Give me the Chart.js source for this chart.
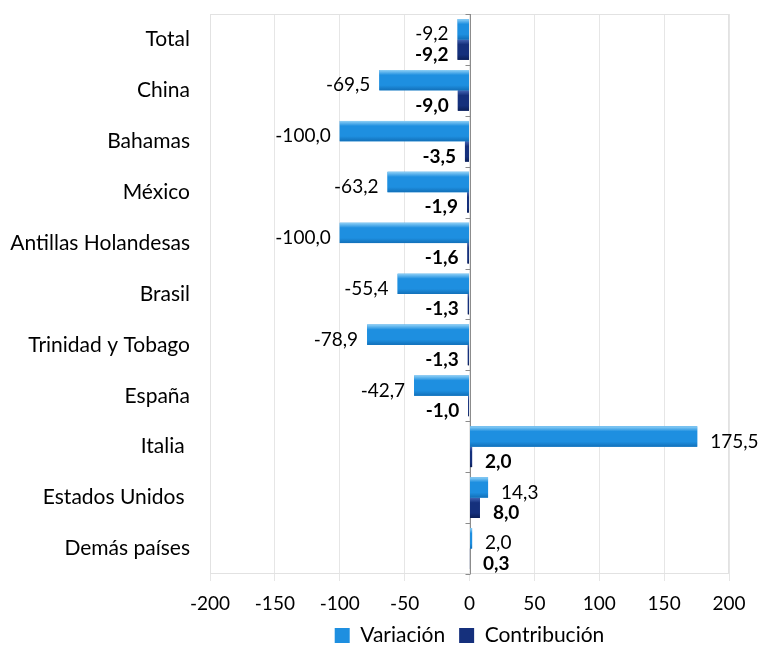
<!DOCTYPE html>
<html>
<head>
<meta charset="utf-8">
<script src="https://cdn.jsdelivr.net/npm/chart.js@4.4.1/dist/chart.umd.min.js"></script>
<style>
  html, body { margin: 0; padding: 0; background: #fff; }
  #wrap { width: 760px; height: 646px; position: relative; }
</style>
</head>
<body>
<div id="wrap"><canvas id="chart" width="760" height="646"></canvas></div>
<script>
const categories = ['Total', 'China', 'Bahamas', 'México', 'Antillas Holandesas', 'Brasil',
    'Trinidad y Tobago', 'España', 'Italia ', 'Estados Unidos ', 'Demás países'];
const variacion = [-9.2, -69.5, -100.0, -63.2, -100.0, -55.4, -78.9, -42.7, 175.5, 14.3, 2.0];
const contribucion = [-9.2, -9.0, -3.5, -1.9, -1.6, -1.3, -1.3, -1.0, 2.0, 8.0, 0.3];
const xTicks = [-200, -150, -100, -50, 0, 50, 100, 150, 200];

const FONT = 'Lato, "DejaVu Sans", sans-serif';
// light / mid / dark shade per series, for the bevelled look
const shades = [
    ['#8fd0f6', '#1e8fe0', '#1270b9'],
    ['#4565b4', '#15307c', '#0b1f57'],
];

const fmt = v => v.toFixed(1).replace('.', ',');

// repaint the bars with a vertical gradient
const bevel = {
    id: 'bevel',
    afterDatasetDraw(chart, args) {
        const ctx = chart.ctx;
        const s = shades[args.index];
        ctx.save();
        args.meta.data.forEach(bar => {
            const l = Math.min(bar.x, bar.base), r = Math.max(bar.x, bar.base);
            const t = bar.y - bar.height / 2, b = bar.y + bar.height / 2;
            if (r - l < 0.5) return;
            const g = ctx.createLinearGradient(0, t, 0, b);
            g.addColorStop(0, s[0]);
            g.addColorStop(0.25, s[1]);
            g.addColorStop(0.75, s[1]);
            g.addColorStop(1, s[2]);
            ctx.fillStyle = g;
            ctx.fillRect(l, t, r - l, b - t);
        });
        ctx.restore();
    }
};

// value labels next to each bar
const barLabels = {
    id: 'barLabels',
    afterDatasetsDraw(chart) {
        const ctx = chart.ctx;
        ctx.save();
        ctx.fillStyle = '#000';
        ctx.textBaseline = 'middle';
        chart.data.datasets.forEach((ds, di) => {
            const meta = chart.getDatasetMeta(di);
            ctx.font = (di === 1 ? 'bold ' : '') + '19px ' + FONT;
            meta.data.forEach((bar, i) => {
                const v = ds.data[i];
                if (v < 0) {
                    ctx.textAlign = 'right';
                    ctx.fillText(fmt(v), Math.min(bar.x, bar.base) - 9, bar.y + 5);
                } else {
                    ctx.textAlign = 'left';
                    ctx.fillText(fmt(v), Math.max(bar.x, bar.base) + 13, bar.y + 5);
                }
            });
        });
        ctx.restore();
    }
};

// plot border + small ticks on the zero axis
const frame = {
    id: 'frame',
    beforeDatasetsDraw(chart) {
        const { ctx, chartArea: a, scales } = chart;
        ctx.save();
        ctx.strokeStyle = '#e2e2e2';
        ctx.lineWidth = 1;
        ctx.strokeRect(a.left + 0.5, a.top + 0.5, a.right - a.left - 1, a.bottom - a.top - 1);
        const x0 = Math.round(scales.x.getPixelForValue(0)) + 0.5;
        ctx.strokeStyle = '#8c8c8c';
        ctx.beginPath();
        for (let i = 0; i <= categories.length; i++) {
            const y = Math.round(scales.y.getPixelForValue(i - 0.5)) + 0.5;
            ctx.moveTo(x0 - 5, y);
            ctx.lineTo(x0, y);
        }
        ctx.moveTo(x0, a.top);
        ctx.lineTo(x0, a.bottom);
        ctx.stroke();
        ctx.restore();
    }
};

new Chart(document.getElementById('chart'), {
    type: 'bar',
    data: {
        labels: categories,
        datasets: [{
            label: 'Variación',
            data: variacion,
            backgroundColor: shades[0][1],
            borderWidth: 0,
            categoryPercentage: 0.8,
            barPercentage: 1.0,
        }, {
            label: 'Contribución',
            data: contribucion,
            backgroundColor: shades[1][1],
            borderWidth: 0,
            categoryPercentage: 0.8,
            barPercentage: 1.0,
        }],
    },
    options: {
        indexAxis: 'y',
        responsive: false,
        animation: false,
        layout: { padding: { top: 14, right: 31, left: 0, bottom: -10 } },
        scales: {
            x: {
                min: -200,
                max: 200,
                afterBuildTicks: scale => { scale.ticks = xTicks.map(v => ({ value: v })); },
                afterFit: scale => { scale.height = 37; },
                grid: { color: '#e6e6e6', tickLength: 7 },
                border: { display: false },
                ticks: { color: '#000', padding: 11, font: { family: FONT, size: 19 } },
            },
            y: {
                afterFit: scale => {
                    scale.width = 210;
                    scale.paddingTop = 0;
                    scale.paddingBottom = 0;
                },
                grid: { display: false },
                border: { display: false },
                ticks: { color: '#000', padding: 12, font: { family: FONT, size: 21 } },
            },
        },
        plugins: {
            legend: {
                position: 'bottom',
                fullSize: false,
                labels: {
                    color: '#000',
                    boxWidth: 15,
                    boxHeight: 15,
                    padding: 14,
                    font: { family: FONT, size: 21 },
                },
            },
            tooltip: { enabled: false },
        },
    },
    plugins: [frame, bevel, barLabels],
});
</script>
</body>
</html>
